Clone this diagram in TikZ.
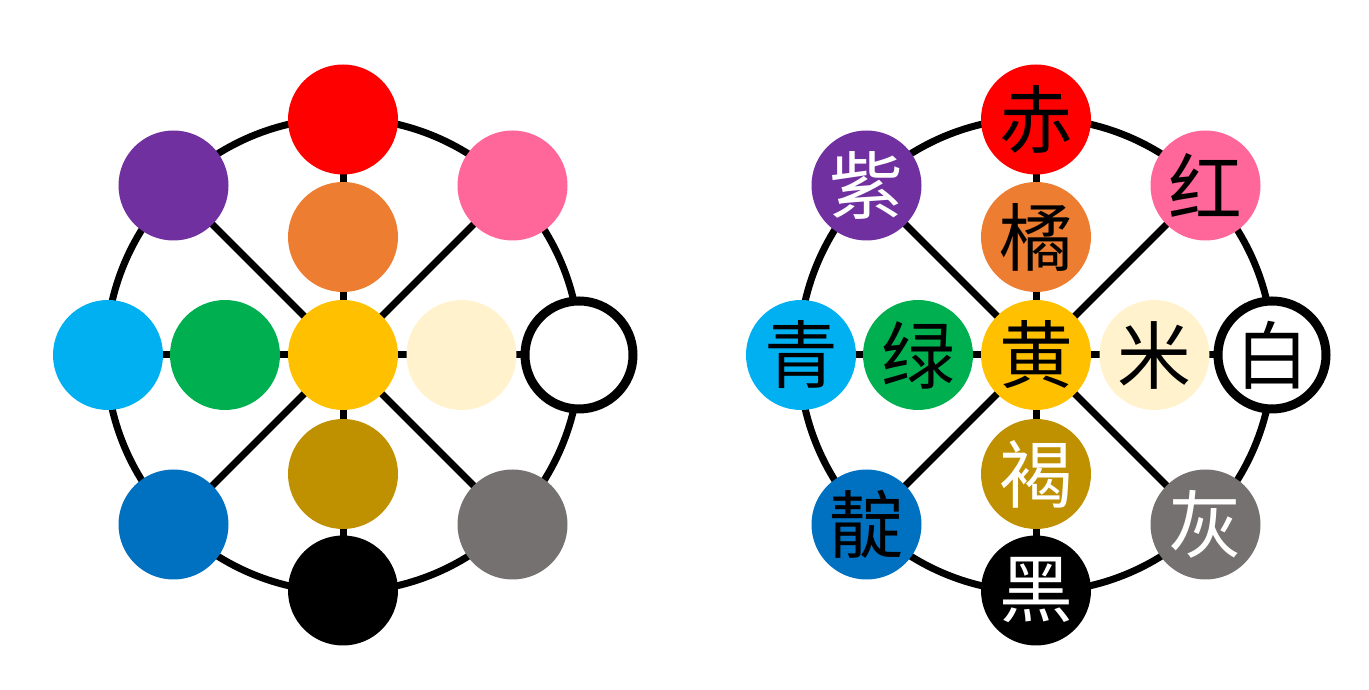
\documentclass[tikz,border=0pt]{standalone}
\usepackage{fontspec}
\usepackage{tikz}
\usetikzlibrary{positioning, calc, backgrounds}
\usepackage{xcolor}
\newfontfamily\cjk{Noto Sans CJK SC}
\definecolor{hueRed}{HTML}{FF0000}
\definecolor{huePink}{HTML}{FF6699}
\definecolor{huePurple}{HTML}{7030A0}
\definecolor{hueOrange}{HTML}{ED7D31}
\definecolor{hueCyan}{HTML}{00B0F0}
\definecolor{hueGreen}{HTML}{00B050}
\definecolor{hueYellow}{HTML}{FFC000}
\definecolor{hueBeige}{HTML}{FFF2CC}
\definecolor{hueBlue}{HTML}{0070C0}
\definecolor{hueOlive}{HTML}{BF9000}
\definecolor{hueGray}{HTML}{767171}

\begin{document}
\begin{tikzpicture}[
        disc/.style={circle, inner sep=0pt, minimum size=2.2cm, font=\cjk\fontsize{42}{42}\selectfont},
        ring/.style={draw=black, line width=0.14cm},
        spoke/.style={draw=black, line width=0.14cm}
      ]
      \useasboundingbox (0,0) rectangle (27.38,13.8);
      \foreach \s/\cx/\show in {L/6.86/0, R/20.72/1} {
         \foreach \n/\dx/\dy/\col/\tc/\txt in {
            C/0/0/hueYellow/black/黄,
            N/0/4.71/hueRed/black/赤,
            S/0/-4.71/black/white/黑,
            W/-4.7/0/hueCyan/black/青,
            E/4.72/0/white/black/白,
            NW/-3.39/3.39/huePurple/white/紫,
            NE/3.39/3.39/huePink/black/红,
            SW/-3.39/-3.39/hueBlue/black/靛,
            SE/3.39/-3.39/hueGray/white/灰,
            n/0/2.36/hueOrange/black/橘,
            s/0/-2.38/hueOlive/white/褐,
            w/-2.36/0/hueGreen/black/绿,
            e/2.37/0/hueBeige/black/米} {
            \node[disc, fill=\col, text=\tc] (\s\n) at ($(\cx,6.7)+(\dx,\dy)$) {\ifnum\show=1 \txt\fi};
         }
         \draw[black, line width=0.18cm] (\s E) circle (1.08cm);
         \begin{scope}[on background layer]
            \draw[ring] (\s C) circle (4.74cm);
            \draw[spoke] (\s N.center) -- (\s S.center);
            \draw[spoke] (\s W.center) -- (\s E.center);
            \draw[spoke] (\s NW.center) -- (\s SE.center);
            \draw[spoke] (\s NE.center) -- (\s SW.center);
         \end{scope}
      }
    \end{tikzpicture}
\end{document}
